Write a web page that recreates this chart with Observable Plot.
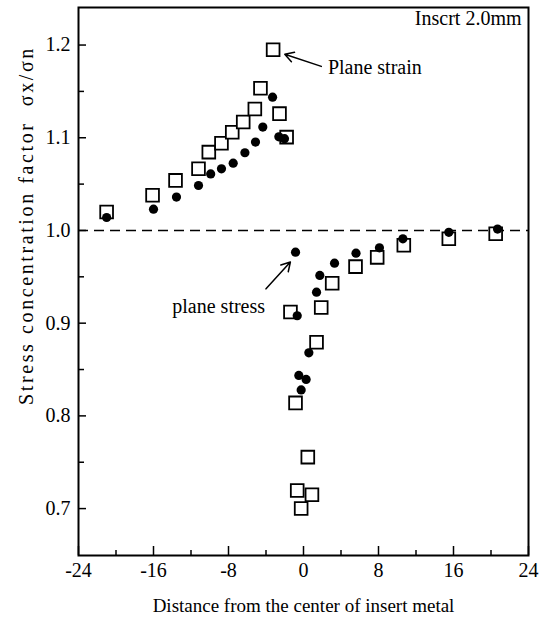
<!DOCTYPE html>
<html><head><meta charset="utf-8">
<script src="https://cdn.jsdelivr.net/npm/d3@7"></script>
<script src="https://cdn.jsdelivr.net/npm/@observablehq/plot@0.6"></script>
<style>html,body{margin:0;padding:0;background:#fff}</style>
</head><body><div id="chart"></div>
<script>
// Plane strain (open squares)
const strainX = [-21.0, -16.1, -13.65, -11.2, -10.1, -8.75, -7.6, -6.43, -5.19, -4.59, -3.24, -2.56, -1.8,
                 -1.39, 1.89, 1.39, -0.85, 0.46, -0.67, 0.9, -0.25, 3.06, 5.55, 7.86, 10.7, 15.5, 20.5];
const strainY = [1.020, 1.038, 1.054, 1.0665, 1.0845, 1.094, 1.106, 1.117, 1.131, 1.1535, 1.195, 1.126, 1.1007,
                 0.912, 0.917, 0.8795, 0.814, 0.7555, 0.7195, 0.715, 0.700, 0.943, 0.961, 0.971, 0.984, 0.991, 0.9964];
// Plane stress (filled circles)
const stressX = [-21.0, -16.0, -13.55, -11.2, -9.9, -8.75, -7.5, -6.25, -5.12, -4.34, -3.3, -2.63, -2.03,
                 -0.85, 3.31, 1.74, 1.39, 5.6, 8.1, 10.6, 15.5, 20.7, -0.67, 0.57, -0.5, 0.28, -0.25];
const stressY = [1.014, 1.023, 1.036, 1.0485, 1.061, 1.0665, 1.0726, 1.0838, 1.0953, 1.1115, 1.1438, 1.101, 1.099,
                 0.9766, 0.9647, 0.9515, 0.9334, 0.9755, 0.9813, 0.991, 0.998, 1.0015, 0.908, 0.868, 0.8436, 0.8393, 0.828];

const xTicks = [-24, -16, -8, 0, 8, 16, 24];
const xMinor = [-20, -12, -4, 4, 12, 20];
const yTicks = [0.7, 0.8, 0.9, 1.0, 1.1, 1.2];
const yMinor = [0.75, 0.85, 0.95, 1.05, 1.15];
const refLine = [1.0];

// Annotations
const labelText = ["Plane strain", "plane stress"];
const labelX = [2.6, -4.1];
const labelY = [1.176, 0.918];
const labelAnchor = ["start", "end"];
const arrowX1 = [1.9, -4.0];
const arrowY1 = [1.177, 0.937];
const arrowX2 = [-2.0, -1.4];
const arrowY2 = [1.19, 0.966];
const insertLabel = ["Inscrt 2.0mm"];
const xTitle = ["Distance from the center of insert metal"];
const yTitle = ["Stress concentration factor  σx/σn"];

const strain = strainX.map((x, i) => ({x, y: strainY[i]}));
const stress = stressX.map((x, i) => ({x, y: stressY[i]}));
const labels = labelText.map((t, i) => ({t, x: labelX[i], y: labelY[i], a: labelAnchor[i]}));
const arrows = arrowX1.map((x1, i) => ({x1, y1: arrowY1[i], x2: arrowX2[i], y2: arrowY2[i]}));

const serif = "'Liberation Serif', 'Times New Roman', serif";

const chart = Plot.plot({
  width: 542, height: 617,
  marginLeft: 78, marginRight: 14, marginTop: 7, marginBottom: 62,
  style: {fontFamily: serif, fontSize: "20px", color: "#000", background: "#fff", overflow: "visible"},
  x: {domain: [-24, 24]},
  y: {domain: [0.6494, 1.2405]},
  marks: [
    Plot.ruleY(refLine, {strokeDasharray: "10,6", strokeWidth: 1.4}),
    Plot.axisX({ticks: xTicks, tickSize: 0, tickPadding: 7, tickFormat: d => String(d), label: null, fontSize: 20}),
    Plot.axisX({ticks: xTicks, tickSize: -9, tickFormat: () => "", label: null, strokeWidth: 1.5}),
    Plot.axisX({ticks: xMinor, tickSize: -5, tickFormat: () => "", label: null, strokeWidth: 1.5}),
    Plot.axisY({ticks: yTicks, tickSize: 0, tickPadding: 8, tickFormat: d => d.toFixed(1), label: null, fontSize: 20}),
    Plot.axisY({ticks: yTicks, tickSize: -8, tickFormat: () => "", label: null, strokeWidth: 1.5}),
    Plot.axisY({ticks: yMinor, tickSize: -6, tickFormat: () => "", label: null, strokeWidth: 1.5}),
    Plot.frame({strokeWidth: 2}),
    Plot.dot(strain, {x: "x", y: "y", symbol: "square", r: 7.2, fill: "white", stroke: "black", strokeWidth: 1.8}),
    Plot.dot(stress, {x: "x", y: "y", r: 4.6, fill: "black"}),
    Plot.arrow(arrows, {x1: "x1", y1: "y1", x2: "x2", y2: "y2", headLength: 10, strokeWidth: 1.5, stroke: "black"}),
    Plot.text(labels, {x: "x", y: "y", text: "t", textAnchor: "start", fontSize: 20, filter: d => d.a === "start"}),
    Plot.text(labels, {x: "x", y: "y", text: "t", textAnchor: "end", fontSize: 20, filter: d => d.a === "end"}),
    Plot.text(insertLabel, {frameAnchor: "top-right", textAnchor: "end", lineAnchor: "top", dx: -7, dy: 3, fontSize: 20}),
    Plot.text(xTitle, {frameAnchor: "bottom", textAnchor: "middle", lineAnchor: "middle", dy: 50, fontSize: 19}),
    Plot.text(yTitle, {frameAnchor: "left", textAnchor: "middle", lineAnchor: "middle", rotate: -90, dx: -52, dy: -56, fontSize: 20})
  ]
});
document.getElementById("chart").appendChild(chart);
// stretch the y title to the reference's length
d3.select(chart).selectAll("text").filter(function() { return this.textContent.startsWith("Stress"); })
  .attr("letter-spacing", "2.6px");
</script>
</body></html>
